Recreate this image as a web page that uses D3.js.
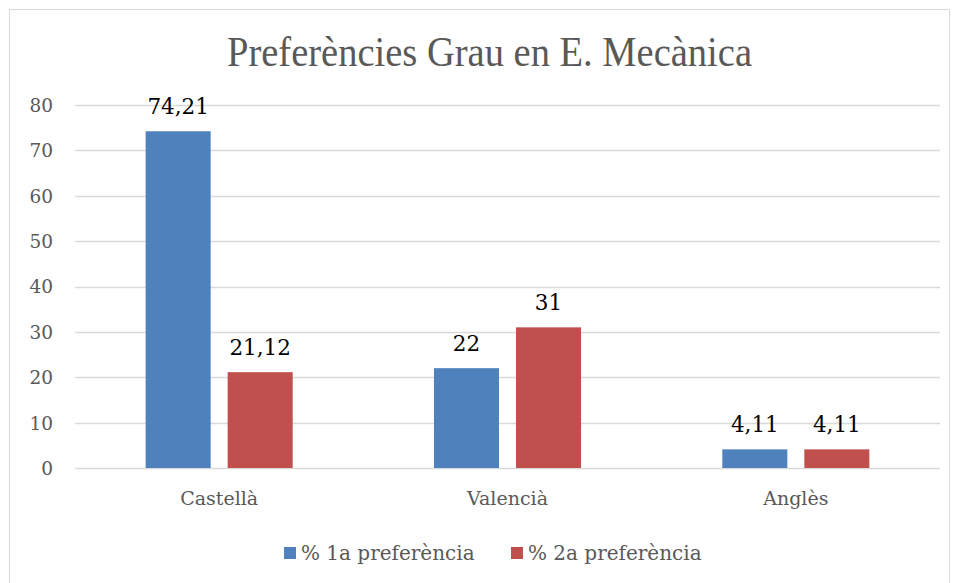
<!DOCTYPE html>
<html><head><meta charset="utf-8">
<script src="https://cdn.jsdelivr.net/npm/d3@7"></script>
<style>body{margin:0;background:#fff}</style>
</head><body>
<svg id="c" width="958" height="583"></svg>
<script>
const title = "Preferències Grau en E. Mecànica";
const categories = ["Castellà", "Valencià", "Anglès"];
const seriesNames = ["% 1a preferència", "% 2a preferència"];
const series1 = [74.21, 22, 4.11];
const series2 = [21.12, 31, 4.11];
const labels1 = ["74,21", "22", "4,11"];
const labels2 = ["21,12", "31", "4,11"];
const yTicks = [0, 10, 20, 30, 40, 50, 60, 70, 80];
const colors = ["#4F81BD", "#C0504D"];

const svg = d3.select("#c");
const W = 958, H = 583;
const plot = {left: 75, right: 940, top: 105, bottom: 468};
const serif = "'DejaVu Serif', serif";

svg.append("rect").attr("x", 9.5).attr("y", 9.5).attr("width", 940).attr("height", 600)
  .attr("fill", "#fff").attr("stroke", "#D9D9D9").attr("stroke-width", 1);

svg.append("text").attr("x", 489.5).attr("y", 66).attr("text-anchor", "middle")
  .attr("font-family", "'Liberation Serif', serif").attr("font-size", 42).attr("fill", "#595959")
  .attr("textLength", 525).attr("lengthAdjust", "spacingAndGlyphs")
  .text(title);

const y = d3.scaleLinear().domain([0, 80]).range([plot.bottom, plot.top]);
const x0 = d3.scaleBand().domain(categories).range([plot.left, plot.right]).paddingInner(0).paddingOuter(0);
const bw = x0.bandwidth();
const groupW = bw * 0.51;
const x1 = d3.scaleBand().domain(seriesNames).range([(bw - groupW) / 2, (bw + groupW) / 2]).paddingInner(0.207);

// gridlines
const grid = svg.append("g");
grid.selectAll("line").data(yTicks).join("line")
  .attr("x1", plot.left).attr("x2", plot.right)
  .attr("y1", d => Math.round(y(d)) + 0.5).attr("y2", d => Math.round(y(d)) + 0.5)
  .attr("stroke", "#D9D9D9").attr("stroke-width", 1.3);

// y axis labels
const yAxis = d3.axisLeft(y).tickValues(yTicks).tickSize(0).tickPadding(0);
const ya = svg.append("g").attr("transform", `translate(${53},0)`).call(yAxis);
ya.select(".domain").remove();
ya.selectAll("text").attr("font-family", serif).attr("font-size", 18.5).attr("fill", "#595959").attr("dy", "0.35em");

// x axis labels
const xAxis = d3.axisBottom(x0).tickSize(0).tickPadding(0);
const xa = svg.append("g").attr("transform", `translate(0,${505})`).call(xAxis);
xa.select(".domain").remove();
xa.selectAll("text").attr("font-family", serif).attr("font-size", 19).attr("fill", "#595959").attr("dy", 0);

const data = categories.map((c, i) => ({c, vals: [
  {s: seriesNames[0], v: series1[i], l: labels1[i], k: 0},
  {s: seriesNames[1], v: series2[i], l: labels2[i], k: 1}
]}));

const groups = svg.append("g").selectAll("g").data(data).join("g")
  .attr("transform", d => `translate(${x0(d.c)},0)`);
groups.selectAll("rect").data(d => d.vals).join("rect")
  .attr("x", d => x1(d.s)).attr("width", x1.bandwidth())
  .attr("y", d => y(d.v)).attr("height", d => y(0) - y(d.v))
  .attr("fill", d => colors[d.k]);
groups.selectAll("text").data(d => d.vals).join("text")
  .attr("x", d => x1(d.s) + x1.bandwidth() / 2).attr("y", d => y(d.v) - 17)
  .attr("text-anchor", "middle").attr("font-family", serif).attr("font-size", 21.5).attr("fill", "#000")
  .text(d => d.l);

// legend
const legendX = [284, 511];
const leg = svg.append("g").selectAll("g").data(seriesNames).join("g")
  .attr("transform", (d, i) => `translate(${legendX[i]},0)`);
leg.append("rect").attr("x", 0).attr("y", 547).attr("width", 12).attr("height", 12).attr("fill", (d, i) => colors[i]);
leg.append("text").attr("x", 17).attr("y", 560).attr("font-family", serif).attr("font-size", 20).attr("fill", "#595959").text(d => d);
</script>
</body></html>
